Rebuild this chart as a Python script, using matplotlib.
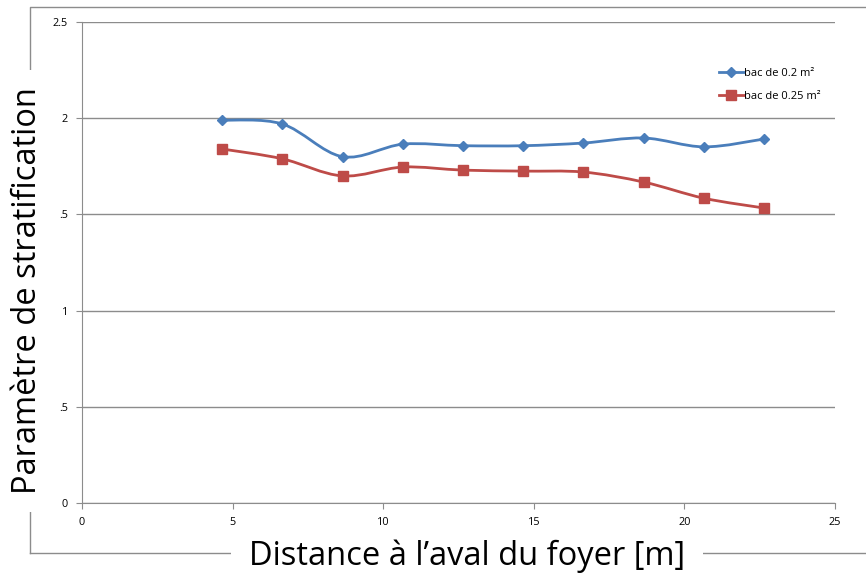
import numpy as np
import matplotlib
matplotlib.use("Agg")
import matplotlib.pyplot as plt
from matplotlib.path import Path
from matplotlib.patches import PathPatch
from matplotlib.lines import Line2D

# data
distance = [4.65, 6.65, 8.65, 10.65, 12.65, 14.65, 16.65, 18.65, 20.65, 22.65]
bac_02 = [1.99, 1.97, 1.80, 1.865, 1.857, 1.857, 1.871, 1.897, 1.851, 1.892]
bac_025 = [1.84, 1.789, 1.70, 1.746, 1.730, 1.725, 1.720, 1.668, 1.584, 1.533]
ytick_vals = [0, 0.5, 1, 1.5, 2, 2.5]
ytick_labels = ["0", ".5", "1", ".5", "2", "2.5"]
xtick_vals = [0, 5, 10, 15, 20, 25]
blue = "#4A7EBB"
red = "#BE4B48"


# Excel-like smoothed line: cubic bezier through the points
def smooth_path(x, y):
    pts = np.column_stack([x, y])
    n = len(pts)
    verts = [pts[0]]
    codes = [Path.MOVETO]
    for i in range(n - 1):
        p0 = pts[i - 1] if i > 0 else pts[i]
        p1 = pts[i]
        p2 = pts[i + 1]
        p3 = pts[i + 2] if i + 2 < n else pts[i + 1]
        c1 = p1 + (p2 - p0) / 6.0
        c2 = p2 - (p3 - p1) / 6.0
        verts += [c1, c2, p2]
        codes += [Path.CURVE4] * 3
    return Path(verts, codes)


fig = plt.figure(figsize=(8.66, 5.73), dpi=100)
ax = fig.add_axes([82/866, 1 - 503/573, (835-82)/866, (503-22)/573])
ax.set_zorder(1)

for ys, col, mk, ms in [(bac_02, blue, "D", 5.5), (bac_025, red, "s", 7)]:
    ax.add_patch(PathPatch(smooth_path(distance, ys), facecolor="none",
                           edgecolor=col, lw=2.0, zorder=3))
    ax.plot(distance, ys, linestyle="none", marker=mk, ms=ms, color=col,
            markeredgecolor=col, zorder=4)

ax.set_xlim(0, 25)
ax.set_ylim(0, 2.5)
ax.set_yticks(ytick_vals)
ax.set_yticklabels(ytick_labels)
ax.set_xticks(xtick_vals)
ax.grid(axis="y", color="#8C8C8C", lw=1)
ax.set_axisbelow(True)
for s in ["top", "right"]:
    ax.spines[s].set_visible(False)
for s in ["left", "bottom"]:
    ax.spines[s].set_color("#8C8C8C")
ax.tick_params(colors="#8C8C8C", length=4, labelsize=7.8, labelcolor="black", pad=6)
for lab in ax.get_xticklabels() + ax.get_yticklabels():
    lab.set_family("Open Sans")

handles = [Line2D([], [], color=blue, marker="D", ms=5.5, lw=2),
           Line2D([], [], color=red, marker="s", ms=7, lw=2)]
ax.legend(handles, ["bac de 0.2 m²", "bac de 0.25 m²"], loc="upper left",
          bbox_to_anchor=(0.833, 0.925), frameon=False, handlelength=2.2,
          handletextpad=0.0, labelspacing=1.1, prop={"family": "Open Sans", "size": 8})

# chart area border, broken by the axis titles
fig.add_artist(Line2D([30/866, 30/866, 1], [1 - 553/573, 1 - 7/573, 1 - 7/573],
                      color="#8C8C8C", lw=1, transform=fig.transFigure, zorder=-2))
fig.add_artist(Line2D([30/866, 1], [1 - 553/573, 1 - 553/573],
                      color="#8C8C8C", lw=1, transform=fig.transFigure, zorder=-2))

fig.text(28/866, 1 - 291/573, "Paramètre de stratification", rotation=90,
         ha="center", va="center", fontsize=23.5, family="Open Sans", zorder=-1,
         bbox=dict(facecolor="white", edgecolor="none", pad=13))
fig.text(467/866, 1 - 556/573, "Distance à l’aval du foyer [m]",
         ha="center", va="center", fontsize=23.5, family="Open Sans", zorder=-1,
         bbox=dict(facecolor="white", edgecolor="none", pad=13))

fig.savefig("out.png", dpi=100)
